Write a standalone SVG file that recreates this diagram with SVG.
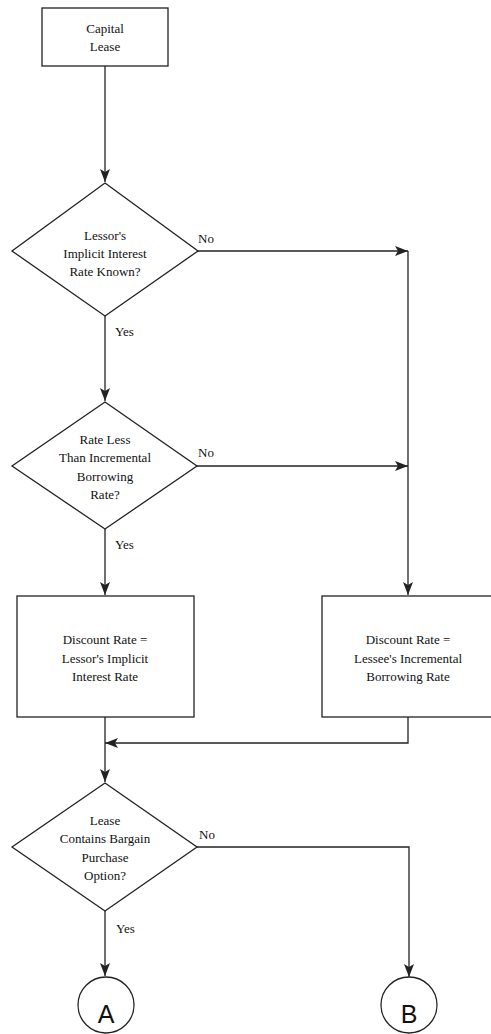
<svg xmlns="http://www.w3.org/2000/svg" width="491" height="1034" viewBox="0 0 491 1034">
<style>
.s{fill:#fff;stroke:#222;stroke-width:1.3}
.c{fill:none;stroke:#222;stroke-width:1.3}
.t{font-family:"Liberation Serif","Times New Roman","DejaVu Serif",serif;font-size:13px;fill:#111;text-anchor:middle}
.l{font-family:"Liberation Serif","Times New Roman","DejaVu Serif",serif;font-size:13px;fill:#111}
.g{font-family:"Liberation Sans",Arial,sans-serif;font-size:25px;fill:#111;text-anchor:middle}
</style>
<defs>
<marker id="ah" viewBox="0 0 13 10" refX="13" refY="5" markerWidth="13" markerHeight="10" markerUnits="userSpaceOnUse" orient="auto">
<path d="M0,0 L13,5 L0,10 L3,5 Z" fill="#222"/>
</marker>
</defs>
<g id="connectors">
<line class="c" x1="105" y1="66" x2="105" y2="182" marker-end="url(#ah)"/>
<line class="c" x1="198" y1="251" x2="408" y2="251" marker-end="url(#ah)"/>
<line class="c" x1="408" y1="251" x2="408" y2="595" marker-end="url(#ah)"/>
<line class="c" x1="105" y1="316" x2="105" y2="401" marker-end="url(#ah)"/>
<line class="c" x1="197" y1="466" x2="408" y2="466" marker-end="url(#ah)"/>
<line class="c" x1="105" y1="529" x2="105" y2="595" marker-end="url(#ah)"/>
<polyline class="c" points="408,717 408,743 105,743" marker-end="url(#ah)"/>
<line class="c" x1="105" y1="717" x2="105" y2="782" marker-end="url(#ah)"/>
<polyline class="c" points="197,847 409,847 409,977" marker-end="url(#ah)"/>
<line class="c" x1="105" y1="911" x2="105" y2="976" marker-end="url(#ah)"/>
<text class="l" x="198" y="243">No</text>
<text class="l" x="115" y="336">Yes</text>
<text class="l" x="198" y="457">No</text>
<text class="l" x="115" y="549">Yes</text>
<text class="l" x="199" y="839">No</text>
<text class="l" x="116" y="933">Yes</text>
</g>
<g id="capital-lease">
<rect class="s" x="42" y="8" width="126" height="58"/>
<text class="t" x="105" y="33">Capital</text>
<text class="t" x="105" y="51">Lease</text>
</g>
<g id="decision-known">
<polygon class="s" points="105,183 198,251 105,316 12,251"/>
<text class="t" x="105" y="240">Lessor's</text>
<text class="t" x="105" y="258">Implicit Interest</text>
<text class="t" x="105" y="276">Rate Known?</text>
</g>
<g id="decision-less">
<polygon class="s" points="105,402 197,466 105,529 12,466"/>
<text class="t" x="105" y="444">Rate Less</text>
<text class="t" x="105" y="462">Than Incremental</text>
<text class="t" x="105" y="481">Borrowing</text>
<text class="t" x="105" y="499">Rate?</text>
</g>
<g id="rate-lessor">
<rect class="s" x="17" y="596" width="177" height="121"/>
<text class="t" x="105" y="644">Discount Rate =</text>
<text class="t" x="105" y="663">Lessor's Implicit</text>
<text class="t" x="105" y="681">Interest Rate</text>
</g>
<g id="rate-lessee">
<rect class="s" x="322" y="596" width="172" height="121"/>
<text class="t" x="408" y="644">Discount Rate =</text>
<text class="t" x="408" y="663">Lessee's Incremental</text>
<text class="t" x="408" y="681">Borrowing Rate</text>
</g>
<g id="decision-bargain">
<polygon class="s" points="105,783 197,847 105,911 12,847"/>
<text class="t" x="105" y="825">Lease</text>
<text class="t" x="105" y="843">Contains Bargain</text>
<text class="t" x="105" y="862">Purchase</text>
<text class="t" x="105" y="880">Option?</text>
</g>
<g id="connector-a">
<circle class="s" cx="106" cy="1005" r="28"/>
<text class="g" x="106" y="1023">A</text>
</g>
<g id="connector-b">
<circle class="s" cx="409" cy="1005" r="28"/>
<text class="g" x="409" y="1023">B</text>
</g>
</svg>
